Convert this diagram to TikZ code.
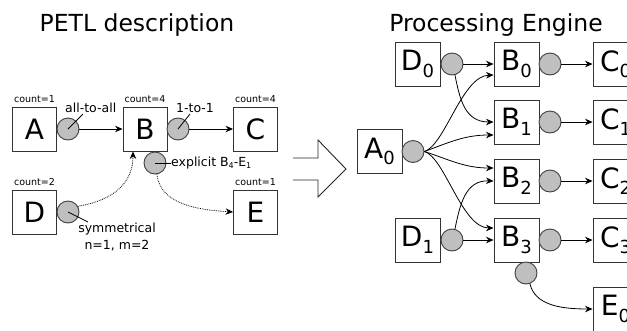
\documentclass[tikz,border=0pt]{standalone}
\usepackage{fontspec}
\setmainfont{DejaVu Sans}
\usetikzlibrary{arrows.meta}
\newcommand\bigsub[1]{\raisebox{-6.5pt}{\fontsize{18}{18}\selectfont #1}}
\newcommand\smallsub[1]{\raisebox{-2.5pt}{\fontsize{8}{8}\selectfont #1}}
\begin{document}
\begin{tikzpicture}[x=1pt,y=-1pt,
  box/.style={draw=black!80, line width=0.9pt, minimum width=44pt, minimum height=44pt, inner sep=0pt, font=\fontsize{28}{30}\selectfont},
  rbox/.style={box, minimum width=45pt},
  port/.style={circle, draw=black!75, fill=black!25, line width=0.9pt, minimum size=22pt, inner sep=0pt},
  arr/.style={-{Stealth[length=7.5pt,width=6.5pt]}, line width=0.8pt},
  dotarr/.style={arr, densely dotted},
  lead/.style={line width=0.8pt},
  small/.style={font=\fontsize{12.5}{14}\selectfont, inner sep=0pt},
  cnt/.style={font=\fontsize{9.5}{10}\selectfont, inner sep=0pt, anchor=base},
  title/.style={font=\fontsize{23.5}{25}\selectfont, inner sep=0pt, anchor=base}]
\clip (0,0) rectangle (627,330);
% titles
\node[title] (t1) at (137,31) {PETL description};
\node[title] (t2) at (496,31) {Processing Engine};
% left pane boxes
\node[box] (A) at (34.5,129) {A};
\node[box] (B) at (145,129) {B};
\node[box] (C) at (255.5,129) {C};
\node[box] (D) at (34.5,212) {D};
\node[box] (E) at (255.5,212) {E};
\node[cnt] (cA) at (34.5,102) {count=1};
\node[cnt] (cB) at (145,102) {count=4};
\node[cnt] (cC) at (255.5,102) {count=4};
\node[cnt] (cD) at (34.5,185) {count=2};
\node[cnt] (cE) at (255.5,185) {count=1};
% ports
\node[port] (pa) at (68,129) {};
\node[port] (pb) at (178,129) {};
\node[port] (pbe) at (155,163) {};
\node[port] (pd) at (68,212) {};
% connectors
\draw[arr] (pa) -- (B);
\draw[arr] (pb) -- (C);
\draw[dotarr] (pd.30) .. controls (115,200) and (133,182) .. ([xshift=-12pt]B.south);
\draw[dotarr] (pbe.-80) .. controls (160,205) and (200,210) .. (E.west);
% labels
\node[small, anchor=base west] (l1) at (65,112) {all-to-all};
\node[small, anchor=base west] (l2) at (176,112) {1-to-1};
\node[small, anchor=west] (l3) at (171,163) {explicit B\smallsub{4}-E\smallsub{1}};
\node[small, anchor=base] (l4) at (117,232) {symmetrical};
\node[small, anchor=base] (l5) at (117,249) {n=1, m=2};
\coordinate (la) at (83,114);
\coordinate (lb) at (190,114);
\coordinate (ls) at (88,222);
\draw[lead] (pa.center) -- (la);
\draw[lead] (pb.center) -- (lb);
\draw[lead] (pbe.center) -- (l3.west);
\draw[lead] (pd.center) -- (ls);
% hollow arrow
\draw[line width=0.9pt, draw=black!85] (293,158) -- (318,158) -- (318,140) -- (346,169) -- (318,197) -- (318,180) -- (293,180);
% right pane
\node[rbox] (A0) at (379.5,151.5) {A\bigsub{0}};
\node[rbox] (D0) at (417.5,64) {D\bigsub{0}};
\node[rbox] (D1) at (417.5,240) {D\bigsub{1}};
\node[rbox] (B0) at (516.5,64) {B\bigsub{0}};
\node[rbox] (B1) at (516.5,122) {B\bigsub{1}};
\node[rbox] (B2) at (516.5,181) {B\bigsub{2}};
\node[rbox] (B3) at (516.5,240) {B\bigsub{3}};
\node[rbox] (C0) at (615.5,64) {C\bigsub{0}};
\node[rbox] (C1) at (615.5,122) {C\bigsub{1}};
\node[rbox] (C2) at (615.5,181) {C\bigsub{2}};
\node[rbox] (C3) at (615.5,240) {C\bigsub{3}};
\node[rbox] (E0) at (615.5,309) {E\bigsub{0}};
\node[port] (pA0) at (413,151.5) {};
\node[port] (pD0) at (452,64) {};
\node[port] (pD1) at (452,240) {};
\node[port] (pB0) at (550,64) {};
\node[port] (pB1) at (550,122) {};
\node[port] (pB2) at (550,181) {};
\node[port] (pB3) at (550,240) {};
\node[port] (pB3e) at (526,273) {};
\draw[arr] (pD0) -- (B0);
\draw[arr] (pD1) -- (B3);
\draw[arr] (pB0) -- (C0);
\draw[arr] (pB1) -- (C1);
\draw[arr] (pB2) -- (C2);
\draw[arr] (pB3) -- (C3);
\draw[arr] (pD0.-75) .. controls (460,100) and (465,122) .. (B1.west);
\draw[arr] (pD1.75) .. controls (460,205) and (465,180) .. (B2.west);
\draw[arr] (pA0.east) .. controls (445,145) and (462,76) .. ([yshift=-11pt]B0.west);
\draw[arr] (pA0.east) .. controls (450,142) and (465,135) .. ([yshift=-13pt]B1.west);
\draw[arr] (pA0.east) .. controls (450,160) and (465,168) .. ([yshift=13pt]B2.west);
\draw[arr] (pA0.east) .. controls (445,158) and (462,228) .. ([yshift=12pt]B3.west);
\draw[arr] (pB3e.-70) .. controls (535,305) and (560,309) .. (E0.west);
\end{tikzpicture}
\end{document}
